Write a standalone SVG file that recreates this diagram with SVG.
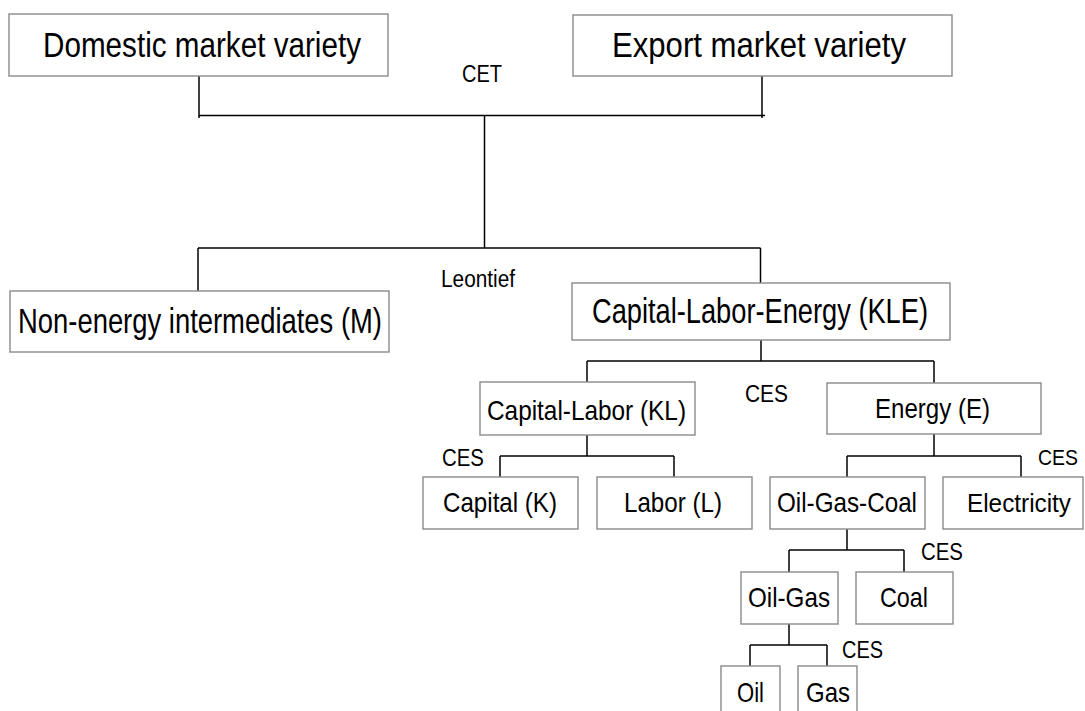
<svg xmlns="http://www.w3.org/2000/svg" width="1085" height="711" viewBox="0 0 1085 711">
<style>
  .box { fill: #ffffff; stroke: #8a8a8a; stroke-width: 1.4; }
  .t { font-family: "Liberation Sans", Arial, sans-serif; fill: #000000; }
  .big { font-size: 35px; }
  .mid { font-size: 28px; }
  .lab { font-size: 23.5px; }
  .c { text-anchor: middle; }
  .conn line { stroke: #000000; stroke-width: 1.5; }
</style>
<rect x="0" y="0" width="1085" height="711" fill="#ffffff"/>
<g id="connectors" class="conn">
  <line x1="199" y1="76" x2="199" y2="118"/>
  <line x1="762" y1="76" x2="762" y2="118"/>
  <line x1="199" y1="115.5" x2="765" y2="115.5"/>
  <line x1="484.5" y1="115.5" x2="484.5" y2="248"/>
  <line x1="198" y1="248" x2="760.5" y2="248"/>
  <line x1="198" y1="248" x2="198" y2="291"/>
  <line x1="760.5" y1="248" x2="760.5" y2="283"/>
  <line x1="761" y1="340" x2="761" y2="361"/>
  <line x1="587" y1="361" x2="934" y2="361"/>
  <line x1="587" y1="361" x2="587" y2="382"/>
  <line x1="934" y1="361" x2="934" y2="383"/>
  <line x1="587" y1="435" x2="587" y2="456"/>
  <line x1="500" y1="456" x2="674" y2="456"/>
  <line x1="500" y1="456" x2="500" y2="477"/>
  <line x1="674" y1="456" x2="674" y2="477"/>
  <line x1="934" y1="434" x2="934" y2="456"/>
  <line x1="847" y1="456" x2="1021" y2="456"/>
  <line x1="847" y1="456" x2="847" y2="477"/>
  <line x1="1021" y1="456" x2="1021" y2="477"/>
  <line x1="847" y1="529" x2="847" y2="550"/>
  <line x1="789" y1="550" x2="904" y2="550"/>
  <line x1="789" y1="550" x2="789" y2="572"/>
  <line x1="904" y1="550" x2="904" y2="572"/>
  <line x1="789" y1="624" x2="789" y2="645"/>
  <line x1="750" y1="645" x2="827" y2="645"/>
  <line x1="750" y1="645" x2="750" y2="666"/>
  <line x1="827" y1="645" x2="827" y2="666"/>
</g>
<g id="labels">
  <text class="t lab" x="462" y="82" textLength="40" lengthAdjust="spacingAndGlyphs">CET</text>
  <text class="t lab" x="441" y="287" textLength="74" lengthAdjust="spacingAndGlyphs">Leontief</text>
  <text class="t lab" x="745" y="402" textLength="43" lengthAdjust="spacingAndGlyphs">CES</text>
  <text class="t lab" x="442" y="466" textLength="42" lengthAdjust="spacingAndGlyphs">CES</text>
  <text class="t c" x="1058" y="465" font-size="22" textLength="40" lengthAdjust="spacingAndGlyphs">CES</text>
  <text class="t lab" x="921" y="560" textLength="42" lengthAdjust="spacingAndGlyphs">CES</text>
  <text class="t lab" x="842" y="658" textLength="41" lengthAdjust="spacingAndGlyphs">CES</text>
</g>
<g id="node-domestic">
  <rect class="box" x="9" y="14" width="379" height="62"/>
  <text class="t big" x="43" y="57" textLength="318" lengthAdjust="spacingAndGlyphs">Domestic market variety</text>
</g>
<g id="node-export">
  <rect class="box" x="573" y="15" width="379" height="61"/>
  <text class="t big" x="612" y="57" textLength="294" lengthAdjust="spacingAndGlyphs">Export market variety</text>
</g>
<g id="node-nonenergy">
  <rect class="box" x="10" y="291" width="379" height="61"/>
  <text class="t big" x="18" y="333" textLength="364" lengthAdjust="spacingAndGlyphs">Non-energy intermediates (M)</text>
</g>
<g id="node-kle">
  <rect class="box" x="572" y="283" width="378" height="57"/>
  <text class="t big" x="592" y="323" textLength="336" lengthAdjust="spacingAndGlyphs">Capital-Labor-Energy (KLE)</text>
</g>
<g id="node-kl">
  <rect class="box" x="480" y="382" width="215" height="53"/>
  <text class="t mid" x="487" y="420" textLength="199" lengthAdjust="spacingAndGlyphs">Capital-Labor (KL)</text>
</g>
<g id="node-energy">
  <rect class="box" x="827" y="383" width="214" height="51"/>
  <text class="t mid" x="875" y="418" textLength="115" lengthAdjust="spacingAndGlyphs">Energy (E)</text>
</g>
<g id="node-capital">
  <rect class="box" x="423" y="477" width="155" height="52"/>
  <text class="t mid" x="443" y="512" textLength="114" lengthAdjust="spacingAndGlyphs">Capital (K)</text>
</g>
<g id="node-labor">
  <rect class="box" x="597" y="477" width="155" height="52"/>
  <text class="t mid" x="624" y="512" textLength="98" lengthAdjust="spacingAndGlyphs">Labor (L)</text>
</g>
<g id="node-ogc">
  <rect class="box" x="770" y="477" width="155" height="52"/>
  <text class="t mid" x="777" y="512" textLength="140" lengthAdjust="spacingAndGlyphs">Oil-Gas-Coal</text>
</g>
<g id="node-electricity">
  <rect class="box" x="943" y="477" width="140" height="52"/>
  <text class="t c" x="1019" y="512" font-size="26" textLength="104" lengthAdjust="spacingAndGlyphs">Electricity</text>
</g>
<g id="node-oilgas">
  <rect class="box" x="741" y="572" width="97" height="52"/>
  <text class="t mid" x="748" y="607" textLength="82" lengthAdjust="spacingAndGlyphs">Oil-Gas</text>
</g>
<g id="node-coal">
  <rect class="box" x="856" y="572" width="97" height="52"/>
  <text class="t mid" x="880" y="607" textLength="48" lengthAdjust="spacingAndGlyphs">Coal</text>
</g>
<g id="node-oil">
  <rect class="box" x="721" y="666" width="59" height="60"/>
  <text class="t mid" x="737" y="702" textLength="27" lengthAdjust="spacingAndGlyphs">Oil</text>
</g>
<g id="node-gas">
  <rect class="box" x="798" y="666" width="59" height="60"/>
  <text class="t mid" x="806" y="702" textLength="44" lengthAdjust="spacingAndGlyphs">Gas</text>
</g>
</svg>
